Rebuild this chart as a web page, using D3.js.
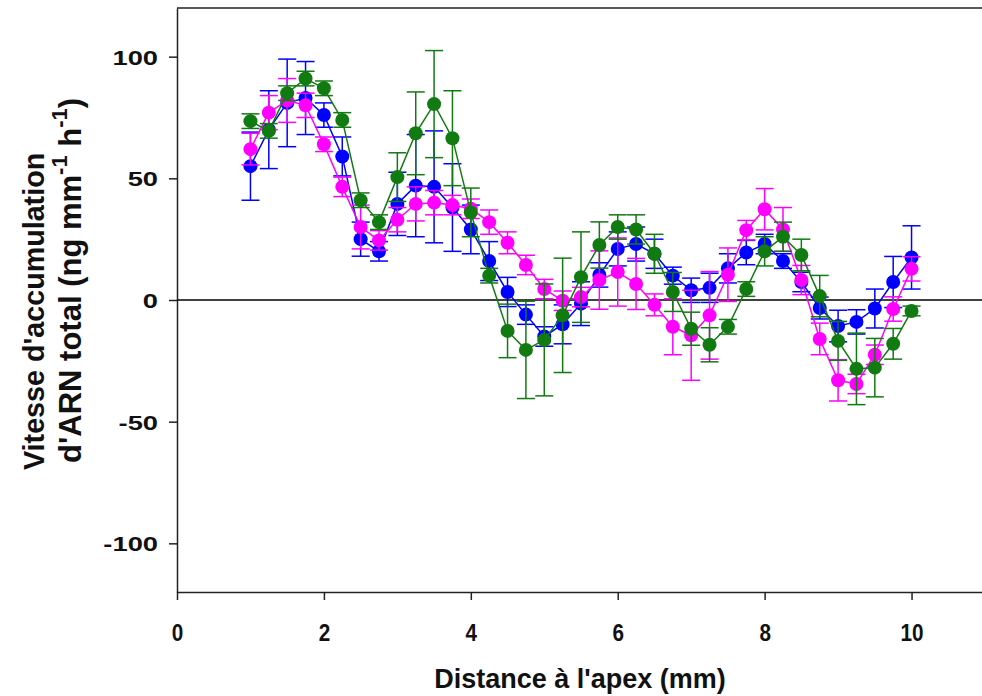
<!DOCTYPE html>
<html><head><meta charset="utf-8">
<script src="https://cdn.jsdelivr.net/npm/d3@7"></script>
<style>body{margin:0;background:#fff;} svg{display:block;} text{font-family:"Liberation Sans",Arial,sans-serif;font-weight:bold;}</style>
</head><body>
<svg id="c" width="982" height="696"></svg>
<script>
const distances = [1.0,1.25,1.5,1.75,2.0,2.25,2.5,2.75,3.0,3.25,3.5,3.75,4.0,4.25,4.5,4.75,5.0,5.25,5.5,5.75,6.0,6.25,6.5,6.75,7.0,7.25,7.5,7.75,8.0,8.25,8.5,8.75,9.0,9.25,9.5,9.75,10.0];
const blueValues = [55,70,81,83,76,59,25,20,39.5,47,46.5,38,29,16,3.3,-6,-15,-10,-1.5,10.3,21,23,19,10,4,5,13,19.5,23,16,7.4,-3.3,-10.7,-9,-3.5,7.4,17.5];
const blueErrors = [14,16,18,15,5,8,7,4,13,21,23,18,10,8,6,4,4,8,9,5,7,7,6,3.5,5,6,6,5,4,3,4,4.5,6.5,5,8,10.5,13];
const magentaValues = [62,77,82,80,64,46.5,30,24.5,33,39.5,40,39,37.5,32,23.5,14.4,4.5,-0.3,1.2,8.2,11.5,6.6,-2,-11,-14.5,-6.3,10.4,28.7,37.3,29,8.2,-16,-33,-34.5,-22.5,-3.7,12.8];
const magentaErrors = [6.5,7,9,5,3,4,9,4,5,7,5,4,4,5,4.5,4,4,4,4,12,14,10.5,4.5,11.5,18.5,18,11,4,8.5,9,6,6.5,8.5,4,4,5,5];
const greenValues = [73.5,69.5,85,91,87,74,41,32,50.5,68.5,80.5,66.5,36,10,-12.7,-20.5,-16.4,-6.3,9.4,22.6,30,29,19,3.3,-11.8,-18.4,-11,4.5,20,26,18.5,1.6,-16.8,-28.3,-27.8,-18,-4.5];
const greenErrors = [3,3,3,3,3,3,3,3,10,17,22,19.5,10,3,11,20,23,23.5,18.6,9.5,5,6,8,8,6.8,7,3,3,6,6,6.5,8.5,8,14.7,12,6.3,2];
const xTicks = [0,2,4,6,8,10];
const yTicks = [-100,-50,0,50,100];
const seriesColors = {blue:"#0000ff", magenta:"#ff00ff", green:"#117a11"};

const series = [
  {name:"blue", values: blueValues, errors: blueErrors},
  {name:"magenta", values: magentaValues, errors: magentaErrors},
  {name:"green", values: greenValues, errors: greenErrors}
];

const svg = d3.select("#c");
const pLeft = 177, pRight = 985, pTop = 8, pBottom = 592;
const x = d3.scaleLinear().domain([0,11]).range([pLeft,pRight]);
const y = d3.scaleLinear().domain([-120,120]).range([pBottom,pTop]);

// frame
svg.append("line").attr("x1",pLeft).attr("x2",pRight).attr("y1",pTop).attr("y2",pTop).attr("stroke","#222").attr("stroke-width",1.5);
svg.append("line").attr("x1",pRight).attr("x2",pRight).attr("y1",pTop).attr("y2",pBottom).attr("stroke","#222").attr("stroke-width",1.5);

const xAxis = svg.append("g").attr("transform",`translate(0,${pBottom})`)
  .call(d3.axisBottom(x).tickValues(xTicks).tickFormat(d => String(d)).tickSize(8).tickSizeOuter(0));
const yAxis = svg.append("g").attr("transform",`translate(${pLeft},0)`)
  .call(d3.axisLeft(y).tickValues(yTicks).tickFormat(d => String(d)).tickSize(8).tickSizeOuter(0));
[xAxis,yAxis].forEach(a=>{
  a.select(".domain").attr("stroke","#222").attr("stroke-width",1.5);
  a.selectAll(".tick line").attr("stroke","#222").attr("stroke-width",1.5);
  a.selectAll(".tick text").attr("fill","#111").style("font-weight","bold").style("font-family","Liberation Sans, Arial, sans-serif");
});
xAxis.selectAll(".tick text").style("font-size","23px").attr("dy","0").attr("y",0)
  .attr("transform","translate(0,49) scale(0.9,1)");
yAxis.selectAll(".tick text").style("font-size","21px").attr("x",0).attr("dy","0.36em")
  .attr("transform","translate(-19,0) scale(1.3,1)");

// zero line
svg.append("line").attr("x1",pLeft).attr("x2",pRight).attr("y1",y(0)).attr("y2",y(0)).attr("stroke","#000").attr("stroke-width",1.5);

const cap = 9;
series.forEach(s=>{
  const col = seriesColors[s.name];
  const g = svg.append("g");
  const pts = distances.map((d,i)=>({x:d, v:s.values[i], e:s.errors[i]}));
  pts.forEach(p=>{
    const eg = g.append("g").attr("stroke",col).attr("stroke-width",1.5);
    eg.append("line").attr("x1",x(p.x)).attr("x2",x(p.x)).attr("y1",y(p.v-p.e)).attr("y2",y(p.v+p.e));
    eg.append("line").attr("x1",x(p.x)-cap).attr("x2",x(p.x)+cap).attr("y1",y(p.v+p.e)).attr("y2",y(p.v+p.e));
    eg.append("line").attr("x1",x(p.x)-cap).attr("x2",x(p.x)+cap).attr("y1",y(p.v-p.e)).attr("y2",y(p.v-p.e));
  });
  g.append("path").datum(pts).attr("fill","none").attr("stroke",col).attr("stroke-width",1.5)
    .attr("d", d3.line().x(p=>x(p.x)).y(p=>y(p.v)));
  g.selectAll("circle").data(pts).join("circle")
    .attr("cx",p=>x(p.x)).attr("cy",p=>y(p.v)).attr("r",7).attr("fill",col);
});

// axis titles
svg.append("text").attr("x",580).attr("y",688).attr("text-anchor","middle")
  .style("font-size","27px").attr("fill","#111").text("Distance à l'apex (mm)");
const yt = svg.append("text").attr("transform",`translate(0,470) rotate(-90)`).attr("text-anchor","start")
  .style("font-size","28.7px").attr("fill","#111");
yt.append("tspan").attr("x",0).attr("y",44).text("Vitesse d'accumulation");
const yt2 = svg.append("text").attr("transform",`translate(0,463) rotate(-90)`).attr("text-anchor","start")
  .style("font-size","31px").attr("fill","#111");
yt2.append("tspan").attr("x",0).attr("y",81).text("d'ARN total (ng mm");
yt2.append("tspan").attr("dy",-14).style("font-size","22px").text("-1");
yt2.append("tspan").attr("dy",14).text(" h");
yt2.append("tspan").attr("dy",-14).style("font-size","22px").text("-1");
yt2.append("tspan").attr("dy",14).text(")");
</script>
</body></html>
